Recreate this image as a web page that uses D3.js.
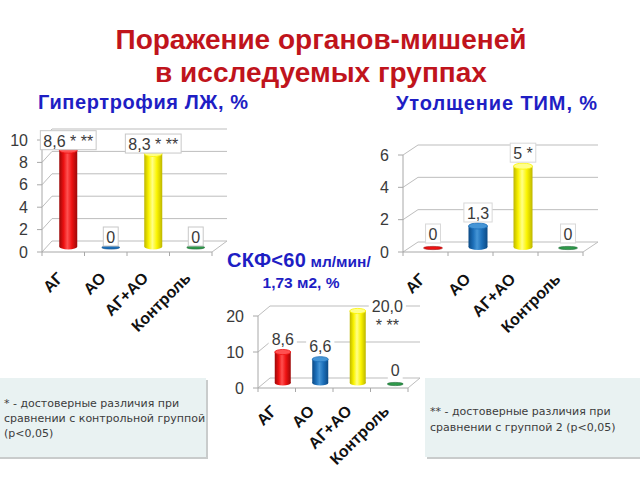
<!DOCTYPE html>
<html><head><meta charset="utf-8">
<script src="https://cdn.jsdelivr.net/npm/d3@7"></script>
<style>body{margin:0;background:#fff}</style>
</head><body>
<svg id="c" width="640" height="480" xmlns="http://www.w3.org/2000/svg"></svg>
<script>
// ---------- data ----------
const categories = ["АГ", "АО", "АГ+АО", "Контроль"];
const lvhValues = [8.6, 0, 8.3, 0];
const lvhLabels = [["8,6 * **"], ["0"], ["8,3 * **"], ["0"]];
const lvhTicks = [0, 2, 4, 6, 8, 10];
const timValues = [0, 1.3, 5, 0];
const timLabels = [["0"], ["1,3"], ["5 *"], ["0"]];
const timTicks = [0, 2, 4, 6];
const gfrValues = [8.6, 6.6, 20.0, 0];
const gfrLabels = [["8,6"], ["6,6"], ["20,0", "* **"], ["0"]];
const gfrTicks = [0, 10, 20];
const mainTitle = ["Поражение органов-мишеней", "в исследуемых группах"];
const note1 = ["* - достоверные различия при", "сравнении с контрольной группой", "(p<0,05)"];
const note2 = ["** - достоверные различия при", "сравнении с группой 2 (p<0,05)"];

// ---------- styles ----------
const barBase = ["#ee1111", "#1c6fb9", "#fbf400", "#2e9a4a"];
const barEdge = ["#9c0808", "#0c4a85", "#bdb600", "#1a6430"];
const barHi   = ["#ff5050", "#4595d6", "#ffff8a", "#5cc276"];
const FONT = "'Liberation Sans', Arial, sans-serif";

const svg = d3.select("#c");
const defs = svg.append("defs");
barBase.forEach((c, i) => {
  const g = defs.append("linearGradient").attr("id", "g" + i)
    .attr("x1", "0%").attr("x2", "100%").attr("y1", "0%").attr("y2", "0%");
  [[0, barEdge[i]], [0.25, barBase[i]], [0.45, barHi[i]], [0.7, barBase[i]], [1, barEdge[i]]]
    .forEach(([o, col]) => g.append("stop").attr("offset", o).attr("stop-color", col));
});

// ---------- titles ----------
svg.append("g").selectAll("text").data(mainTitle).join("text")
  .attr("x", 321).attr("y", (d, i) => 49 + i * 33)
  .attr("text-anchor", "middle").attr("font-family", FONT).attr("font-weight", "bold")
  .attr("font-size", 28).attr("fill", "#c0141c").text(d => d);

const blue = "#1e1ec4";
svg.append("text").attr("x", 38).attr("y", 109).attr("font-family", FONT)
  .attr("font-weight", "bold").attr("font-size", 20).attr("letter-spacing", 0.6)
  .attr("fill", blue).text("Гипертрофия ЛЖ, %");
svg.append("text").attr("x", 396).attr("y", 110).attr("font-family", FONT)
  .attr("font-weight", "bold").attr("font-size", 20).attr("letter-spacing", 0.9)
  .attr("fill", blue).text("Утолщение ТИМ, %");
const t3 = svg.append("text").attr("x", 227).attr("y", 267).attr("font-family", FONT)
  .attr("font-weight", "bold").attr("fill", blue);
t3.append("tspan").attr("font-size", 20).attr("letter-spacing", 0.3).text("СКФ<60");
t3.append("tspan").attr("font-size", 15.5).text(" мл/мин/");
svg.append("text").attr("x", 301).attr("y", 288).attr("text-anchor", "middle").attr("font-family", FONT)
  .attr("font-weight", "bold").attr("font-size", 15.5).attr("fill", blue).text("1,73 м2, %");

// ---------- notes ----------
function note(x, y, w, h, lines, tx, ty0, step) {
  const g = svg.append("g");
  g.append("rect").attr("x", x + 2).attr("y", y + 2).attr("width", w).attr("height", h).attr("fill", "#c9cccc");
  g.append("rect").attr("x", x).attr("y", y).attr("width", w).attr("height", h).attr("fill", "#e9f2f2");
  g.selectAll("text").data(lines).join("text")
    .attr("x", tx).attr("y", (d, i) => ty0 + i * step)
    .attr("font-family", "'DejaVu Sans', Verdana, sans-serif").attr("font-size", 11)
    .attr("fill", "#3c3c3c").text(d => d);
}
note(-4, 378, 210, 79, note1, 4, 407, 15);
note(425, 378, 220, 79, note2, 430, 415, 16);

// ---------- 3D column chart ----------
function drawChart(cfg, values, labels, ticks) {
  const g = svg.append("g");
  const x = d3.scaleBand().domain(categories).range([cfg.x0, cfg.x1]);
  const y = d3.scaleLinear().domain([0, d3.max(ticks)]).range([cfg.floor, cfg.top]);
  const { dx, dy } = cfg;
  const grid = "#bdbdbd", axis = "#a8a8a8";

  // back-wall gridlines + diagonals + tick marks + tick labels
  ticks.forEach(t => {
    g.append("line").attr("x1", cfg.x0 + dx).attr("x2", cfg.gridRight)
      .attr("y1", y(t) + dy).attr("y2", y(t) + dy).attr("stroke", grid);
    g.append("line").attr("x1", cfg.x0).attr("y1", y(t)).attr("x2", cfg.x0 + dx).attr("y2", y(t) + dy)
      .attr("stroke", grid);
    g.append("line").attr("x1", cfg.x0 - 5).attr("x2", cfg.x0).attr("y1", y(t)).attr("y2", y(t))
      .attr("stroke", axis);
    g.append("text").attr("x", cfg.x0 - 14).attr("y", y(t)).attr("dy", "0.35em")
      .attr("text-anchor", "end").attr("font-family", FONT).attr("font-size", 16)
      .attr("fill", "#3a3a3a").text(t);
  });
  // front vertical axis
  g.append("line").attr("x1", cfg.x0).attr("x2", cfg.x0).attr("y1", cfg.floor).attr("y2", y(d3.max(ticks)))
    .attr("stroke", axis);
  // floor front line + right diagonal
  g.append("line").attr("x1", cfg.x0).attr("x2", cfg.x1).attr("y1", cfg.floor).attr("y2", cfg.floor)
    .attr("stroke", axis);
  g.append("line").attr("x1", cfg.x1).attr("y1", cfg.floor).attr("x2", cfg.gridRight).attr("y2", cfg.floor + dy)
    .attr("stroke", grid);
  // category ticks
  const bounds = categories.map(c => x(c)).concat([cfg.x1]);
  g.selectAll(".ct").data(bounds).join("line")
    .attr("x1", d => d).attr("x2", d => d).attr("y1", cfg.floor).attr("y2", cfg.floor + 4)
    .attr("stroke", axis);

  // bars (cylinders)
  const bw = cfg.barW, rx = bw / 2, ry = cfg.ry;
  categories.forEach((c, i) => {
    const v = values[i];
    const cx = x(c) + x.bandwidth() / 2 + dx / 2;
    const base = cfg.floor + dy / 2;
    const top = y(v) + dy / 2;
    if (v > 0) {
      g.append("ellipse").attr("cx", cx).attr("cy", base).attr("rx", rx).attr("ry", ry)
        .attr("fill", `url(#g${i})`);
      g.append("rect").attr("x", cx - rx).attr("y", top).attr("width", bw).attr("height", base - top)
        .attr("fill", `url(#g${i})`);
      g.append("ellipse").attr("cx", cx).attr("cy", top).attr("rx", rx).attr("ry", ry)
        .attr("fill", barHi[i]).attr("stroke", barBase[i]).attr("stroke-width", 0.8);
    } else {
      g.append("ellipse").attr("cx", cx).attr("cy", base + 1).attr("rx", rx).attr("ry", 1.6)
        .attr("fill", barBase[i]).attr("stroke", barEdge[i]).attr("stroke-width", 0.6);
    }
  });

  // data labels
  categories.forEach((c, i) => {
    const v = values[i];
    const lines = labels[i];
    const cx = x(c) + x.bandwidth() / 2 + dx / 2;
    const lg = g.append("g");
    const texts = lines.map((s, k) => lg.append("text").attr("font-family", FONT).attr("font-size", 16)
      .attr("fill", "#3a3a3a").attr("text-anchor", "middle").attr("y", k * 19).text(s));
    const w = d3.max(texts, t => t.node().getComputedTextLength()) + 6;
    const h = lines.length * 19;
    let bx, by;
    const boxBottom = y(v) - cfg.labelGap;
    if (boxBottom - h < cfg.labelMinY) {
      // not enough room above: place to the right of the bar top
      bx = cx + bw / 2 + 3 + w / 2;
      by = y(v) - 19;
    } else {
      bx = cx;
      by = boxBottom - h;
    }
    lg.insert("rect", "text").attr("x", -w / 2).attr("y", -1).attr("width", w).attr("height", h)
      .attr("fill", "#fff").attr("stroke", cfg.boxStroke);
    texts.forEach(t => t.attr("dy", 15));
    lg.attr("transform", `translate(${bx},${by})`);
  });

  // category labels
  categories.forEach(c => {
    const ax = x(c) + x.bandwidth() / 2 + 1;
    const ay = cfg.floor + cfg.catOffset;
    g.append("text").attr("transform", `translate(${ax},${ay}) rotate(-45)`)
      .attr("text-anchor", "end").attr("font-family", FONT).attr("font-weight", "bold")
      .attr("font-size", 16).attr("fill", "#111").text(c);
  });
}

drawChart({ x0: 42, x1: 212, gridRight: 227, floor: 252, top: 140, dx: 10, dy: -11, barW: 18, ry: 3,
  labelGap: 5, labelMinY: 120, boxStroke: "#c8c8c8", catOffset: 27 }, lvhValues, lvhLabels, lvhTicks);
drawChart({ x0: 403, x1: 583, gridRight: 598, floor: 252, top: 155, dx: 15, dy: -10, barW: 19, ry: 3,
  labelGap: 8, labelMinY: 125, boxStroke: "#d8d8d8", catOffset: 28 }, timValues, timLabels, timTicks);
drawChart({ x0: 258, x1: 408, gridRight: 420, floor: 388, top: 316, dx: 12, dy: -10, barW: 16, ry: 2.6,
  labelGap: 8, labelMinY: 295, boxStroke: "none", catOffset: 24 }, gfrValues, gfrLabels, gfrTicks);
</script>
</body></html>
